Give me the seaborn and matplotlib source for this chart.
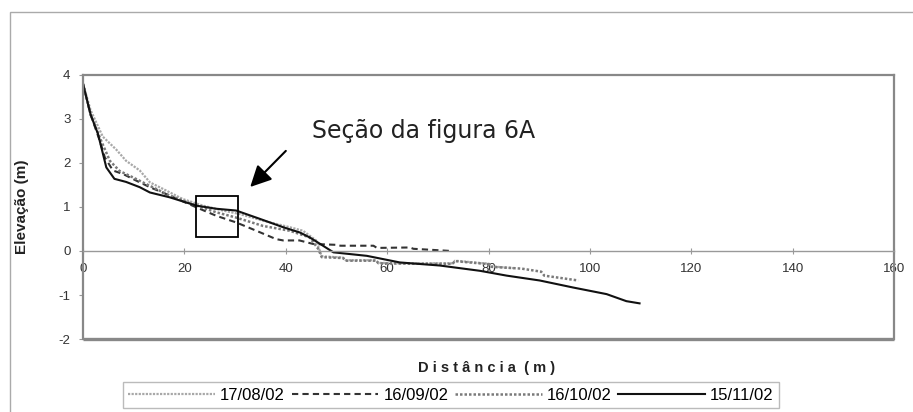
import pandas as pd
import numpy as np
import matplotlib.pyplot as plt
import seaborn as sns
from matplotlib.patches import Rectangle

# perfis de praia (distancia x elevacao)
x_1708 = [0, 1.5, 3.9, 6.6, 8.5, 11.2, 13.2, 15.8, 19.7, 23.7, 27.6, 30.9, 35.5, 40.8, 43.4, 46.0, 47.1,
          51.3, 51.8, 57.8, 58.3, 65.0, 72.9, 73.4, 80.1, 80.6, 85.0]
y_1708 = [3.8, 3.2, 2.6, 2.3, 2.05, 1.83, 1.56, 1.41, 1.18, 1.03, 0.92, 0.84, 0.69, 0.54, 0.46, 0.24, -0.12,
          -0.15, -0.21, -0.21, -0.27, -0.28, -0.28, -0.22, -0.29, -0.35, -0.39]

x_1609 = [0, 1.5, 3.3, 4.3, 5.9, 7.9, 10.5, 13.2, 17.1, 22.4, 26.3, 30.2, 34.2, 38.1, 39.5, 42.7, 45.4,
          50.0, 50.8, 57.3, 58.0, 64.5, 65.2, 72.7]
y_1609 = [3.8, 3.1, 2.51, 2.13, 1.83, 1.75, 1.60, 1.45, 1.26, 0.99, 0.80, 0.65, 0.46, 0.27, 0.24, 0.24, 0.16,
          0.14, 0.12, 0.12, 0.07, 0.08, 0.05, 0.0]

x_1610 = [0, 1.5, 3.6, 5.3, 7.2, 9.9, 13.2, 17.1, 22.4, 26.3, 30.2, 35.5, 40.8, 44.7, 46.4, 47.1, 51.3,
          51.8, 57.8, 58.3, 65.0, 72.9, 73.4, 80.1, 80.6, 86.5, 90.4, 91.0, 97.7]
y_1610 = [3.8, 3.1, 2.5, 2.05, 1.82, 1.67, 1.48, 1.26, 1.03, 0.88, 0.76, 0.57, 0.46, 0.31, 0.05, -0.14, -0.16,
          -0.22, -0.22, -0.28, -0.29, -0.29, -0.23, -0.30, -0.36, -0.40, -0.47, -0.56, -0.67]

x_1511 = [0, 1.5, 2.96, 4.6, 6.2, 8.5, 11.2, 13.2, 17.1, 22.4, 26.3, 30.2, 34.9, 39.5, 42.8, 44.7, 46.8,
          49.4, 56.0, 62.5, 70.4, 78.3, 83.6, 90.1, 96.7, 103.3, 107.2, 109.8]
y_1511 = [3.8, 3.1, 2.66, 1.9, 1.64, 1.57, 1.45, 1.33, 1.22, 1.03, 0.96, 0.92, 0.73, 0.54, 0.42, 0.31, 0.16,
          -0.03, -0.11, -0.26, -0.33, -0.45, -0.56, -0.67, -0.83, -0.98, -1.14, -1.19]

datas = ['17/08/02', '16/09/02', '16/10/02', '15/11/02']
xs = [x_1708, x_1609, x_1610, x_1511]
ys = [y_1708, y_1609, y_1610, y_1511]
cores = ['#a8a8a8', '#333333', '#7a7a7a', '#111111']
estilos = [(0, (1, 0.6)), (0, (3, 2)), (0, (1, 0.8)), '-']
larguras = [1.6, 1.5, 1.8, 1.5]

plt.rcParams['font.family'] = ['Liberation Sans', 'DejaVu Sans']
plt.rcParams['axes.unicode_minus'] = False

fig = plt.figure(figsize=(9.13, 4.12), dpi=100)
ax = fig.add_axes([83 / 913, 1 - 339 / 412, (894 - 83) / 913, (339 - 75) / 412])

for d, x, y, c, ls, lw in zip(datas, xs, ys, cores, estilos, larguras):
    df = pd.DataFrame({'dist': x, 'elev': y})
    sns.lineplot(data=df, x='dist', y='elev', ax=ax, color=c, linestyle=ls, lw=lw,
                 sort=False, estimator=None, label=d, legend=False)

ax.set_xlim(0, 160)
ax.set_ylim(-2, 4)
ax.set_xticks(range(0, 161, 20))
ax.set_yticks(range(-2, 5))
ax.set_xlabel('')
ax.set_ylabel('')

# eixo x cruzando em y = 0 (estilo Excel)
ax.spines['bottom'].set_position(('data', 0))
ax.spines['bottom'].set_color('#999999')
ax.spines['bottom'].set_linewidth(1.0)
for s in ['left', 'top', 'right']:
    ax.spines[s].set_color('#888888')
    ax.spines[s].set_linewidth(1.6)
ax.plot([0, 160], [-2, -2], color='#888888', lw=2.4, clip_on=False, solid_capstyle='butt')
ax.tick_params(axis='x', direction='inout', length=4, width=0.8, color='#999999',
               labelsize=9.5, labelcolor='#333333', pad=7)
ax.tick_params(axis='y', direction='out', length=3, width=0.8, color='#999999',
               labelsize=9.5, labelcolor='#333333', pad=6)

# secao destacada + seta
ax.add_patch(Rectangle((22.3, 0.32), 8.3, 0.93, fill=False, ec='black', lw=1.3, zorder=5))
ax.annotate('', xy=(32.6, 1.41), xytext=(40.4, 2.32),
            arrowprops=dict(arrowstyle='-|>', mutation_scale=32, lw=1.5, color='black'))
fig.text(312 / 913, 1 - 138 / 412, 'Seção da figura 6A', fontsize=17, color='#222222',
         family=['DejaVu Sans'], va='baseline', ha='left')

fig.text(22 / 913, 0.5 * (2 - (75 + 339) / 412), 'Elevação (m)', rotation=90, fontsize=11,
         fontweight='bold', va='center', ha='center', color='#222222')
fig.text(487 / 913, 1 - 368 / 412, 'D i s t â n c i a  ( m )', fontsize=10.5, fontweight='bold',
         va='center', ha='center', color='#222222')

# moldura externa
fig.patches.append(Rectangle((10 / 913, -0.2), 1.2, 1.2 - 12 / 412, transform=fig.transFigure,
                             fill=False, ec='#aaaaaa', lw=1.0))

leg = fig.legend(handles=ax.get_lines()[:4], labels=datas, loc='center', ncol=4,
                 bbox_to_anchor=(451 / 913, 1 - 395 / 412), fontsize=12, handlelength=5.2,
                 handletextpad=0.3, columnspacing=0.4, frameon=True, fancybox=False,
                 borderpad=0.35, edgecolor='#aaaaaa')
leg.get_frame().set_linewidth(1.0)

fig.savefig('out.png', dpi=100)
